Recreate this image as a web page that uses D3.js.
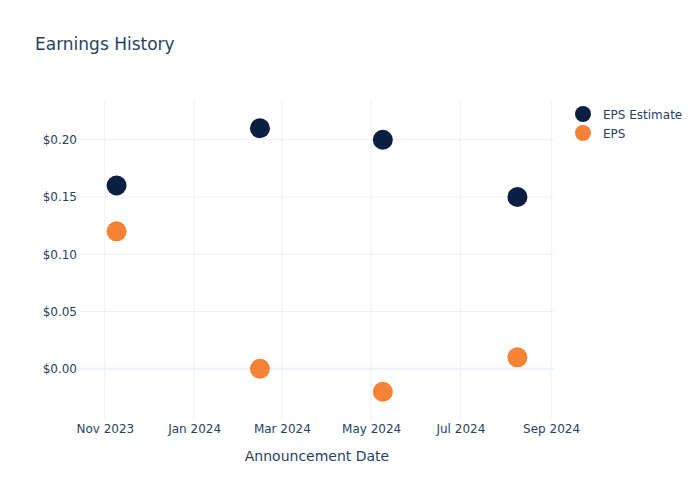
<!DOCTYPE html>
<html>
<head>
<meta charset="utf-8">
<script src="https://cdn.jsdelivr.net/npm/d3@7"></script>
<style>
  body { margin: 0; background: #fff; }
  svg { display: block; font-family: "DejaVu Sans", Verdana, sans-serif; }
</style>
</head>
<body>
<svg id="chart" width="700" height="500"></svg>
<script>
// ---- data ----
const dates = ["2023-11-09", "2024-02-15", "2024-05-09", "2024-08-09"];
const epsEstimate = [0.16, 0.21, 0.20, 0.15];
const epsActual = [0.12, 0.00, -0.02, 0.01];
const seriesNames = ["EPS Estimate", "EPS"];
const seriesColors = ["#0b1f42", "#f68236"];
const xTickDates = ["2023-11-01", "2024-01-01", "2024-03-01", "2024-05-01", "2024-07-01", "2024-09-01"];
const yTicks = [0, 0.05, 0.10, 0.15, 0.20];
const xDomain = ["2023-10-15", "2024-09-03"];
const yDomain = [-0.0454, 0.234];

const parse = d3.isoParse;
const svg = d3.select("#chart");
const W = 700, H = 500;
const m = { l: 80, r: 146, t: 100, b: 80 };
const textColor = "#2a3f5f";
const gridColor = "#ebf0f8";

const x = d3.scaleTime().domain(xDomain.map(parse)).range([m.l, W - m.r]);
const y = d3.scaleLinear().domain(yDomain).range([H - m.b + 0.8, m.t + 0.8]);

// grid
const g = svg.append("g");
g.selectAll("line.vx").data(xTickDates.map(parse)).join("line")
  .attr("x1", d => x(d)).attr("x2", d => x(d))
  .attr("y1", m.t).attr("y2", H - m.b)
  .attr("stroke", gridColor).attr("stroke-width", 1);
g.selectAll("line.hy").data(yTicks).join("line")
  .attr("x1", m.l).attr("x2", W - m.r)
  .attr("y1", d => y(d)).attr("y2", d => y(d))
  .attr("stroke", gridColor).attr("stroke-width", d => d === 0 ? 2 : 1);

// axes (labels only)
const fmtMonth = d3.timeFormat("%b %Y");
const xAxis = d3.axisBottom(x).tickValues(xTickDates.map(parse)).tickFormat(fmtMonth).tickSize(0).tickPadding(4);
const xa = svg.append("g").attr("transform", `translate(0,${H - m.b})`).call(xAxis);
xa.select(".domain").remove();
xa.selectAll("text").attr("fill", textColor).attr("font-size", 12).attr("font-family", "DejaVu Sans, sans-serif");

const yAxis = d3.axisLeft(y).tickValues(yTicks).tickFormat(d => "$" + d3.format(".2f")(d)).tickSize(0).tickPadding(3);
const ya = svg.append("g").attr("transform", `translate(${m.l},0)`).call(yAxis);
ya.select(".domain").remove();
ya.selectAll("text").attr("fill", textColor).attr("font-size", 12).attr("font-family", "DejaVu Sans, sans-serif");

// points
const series = [epsEstimate, epsActual];
series.forEach((vals, si) => {
  svg.append("g").selectAll("circle").data(vals).join("circle")
    .attr("cx", (d, i) => x(parse(dates[i])))
    .attr("cy", d => y(d))
    .attr("r", 10)
    .attr("fill", seriesColors[si]);
});

// title
svg.append("text").attr("x", 35).attr("y", 50)
  .attr("fill", textColor).attr("font-size", 17).text("Earnings History");

// axis title
svg.append("text").attr("x", (m.l + W - m.r) / 2).attr("y", 461)
  .attr("text-anchor", "middle").attr("fill", textColor).attr("font-size", 14)
  .text("Announcement Date");

// legend
const lg = svg.append("g").attr("transform", "translate(583,114)");
seriesNames.forEach((name, i) => {
  const row = lg.append("g").attr("transform", `translate(0,${i * 19})`);
  row.append("circle").attr("r", 8).attr("fill", seriesColors[i]);
  row.append("text").attr("x", 20).attr("y", 4.5).attr("fill", textColor)
    .attr("font-size", 12).text(name);
});
</script>
</body>
</html>
